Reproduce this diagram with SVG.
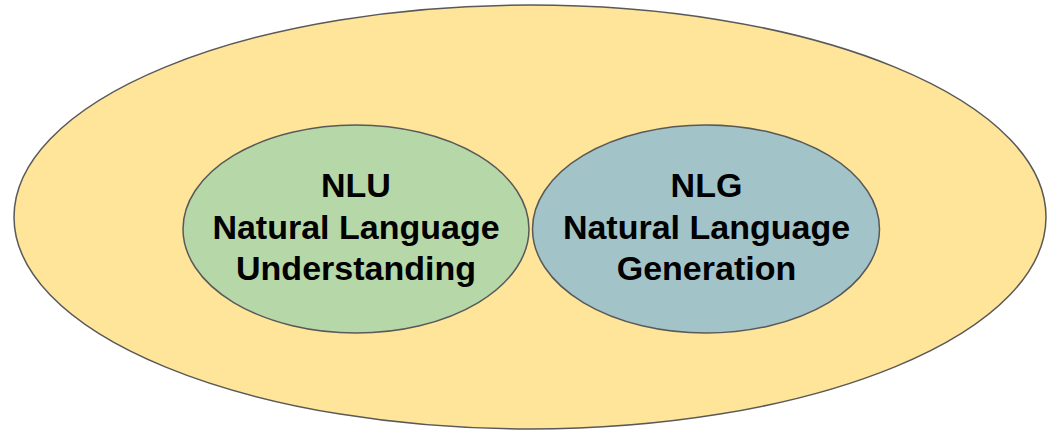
<svg xmlns="http://www.w3.org/2000/svg" width="1048" height="431" viewBox="0 0 1048 431">
  <style>
    .shape { stroke: #595959; stroke-width: 1.5; }
    .label { font-family: "Liberation Sans", Arial, sans-serif; font-weight: bold; font-size: 34px; fill: #000; text-anchor: middle; }
  </style>
  <rect width="1048" height="431" fill="#ffffff"/>
  <g id="nlp">
    <ellipse class="shape" cx="530" cy="217" rx="516" ry="212" fill="#ffe599"/>
  </g>
  <g id="nlu">
    <ellipse class="shape" cx="356" cy="229" rx="173" ry="104" fill="#b6d7a8"/>
    <text class="label" x="356" y="197">NLU</text>
    <text class="label" x="356" y="239">Natural Language</text>
    <text class="label" x="356" y="280">Understanding</text>
  </g>
  <g id="nlg">
    <ellipse class="shape" cx="706" cy="229" rx="173.5" ry="104" fill="#a2c4c9"/>
    <text class="label" x="706.5" y="197">NLG</text>
    <text class="label" x="706.5" y="239">Natural Language</text>
    <text class="label" x="706.5" y="280">Generation</text>
  </g>
  <g id="connectors"/>
</svg>
